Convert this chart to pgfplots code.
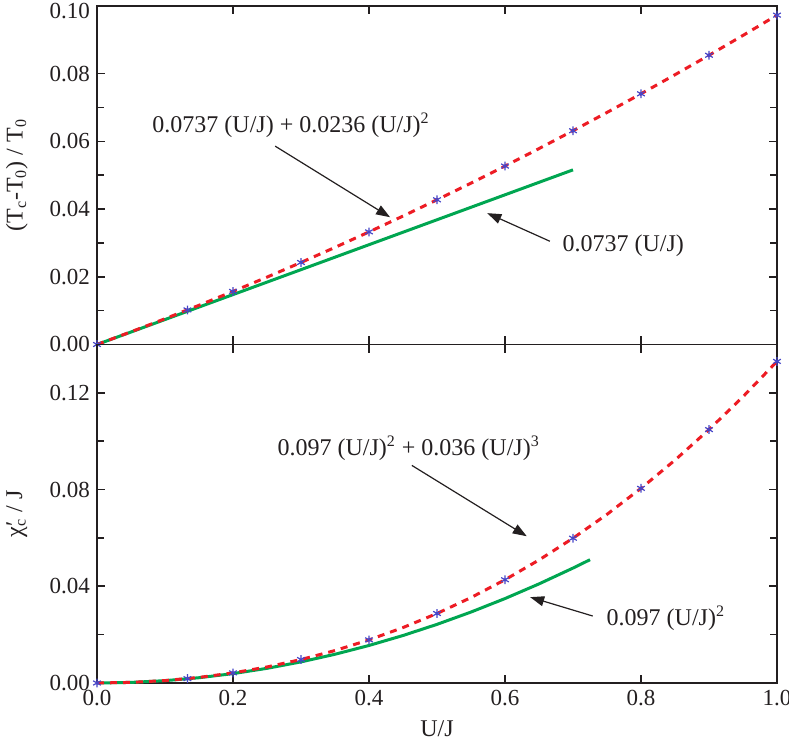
\documentclass[border=0pt]{standalone}
\usepackage{pgfplots}
\pgfplotsset{compat=1.18}
\usetikzlibrary{arrows.meta}
\usepackage{fontspec}
\setmainfont{Liberation Serif}
\definecolor{fitred}{RGB}{237,28,36}
\definecolor{fitgreen}{RGB}{0,166,81}
\definecolor{ptblue}{RGB}{70,70,200}
\definecolor{txt}{RGB}{35,31,32}

\tikzset{
 ann/.style={font=\fontsize{12}{14}\selectfont, text=txt, inner sep=0pt, anchor=west},
 arr/.style={draw=txt, line width=0.6pt, -{Triangle[length=7pt,width=5pt]}},
}
\pgfplotsset{
 myaxis/.style={
  scale only axis, width=340pt, height=169.25pt,
  xmin=0, xmax=1,
  axis line style={line width=0.8pt, color=txt},
  every tick/.style={line width=0.8pt, color=txt},
  tick align=inside,
  major tick length=4pt, minor tick length=3.5pt,
  xtick={0,0.2,0.4,0.6,0.8,1.0},
  minor y tick num=1,
  scaled y ticks=false, scaled x ticks=false,
  /pgf/number format/assume math mode=true,
  ticklabel style={font=\fontsize{11.5}{13}\selectfont, text=txt},
  label style={font=\fontsize{12}{14}\selectfont, text=txt},
  clip=false,
  xticklabel style={/pgf/number format/fixed, /pgf/number format/fixed zerofill, /pgf/number format/precision=1},
  yticklabel style={/pgf/number format/fixed, /pgf/number format/fixed zerofill, /pgf/number format/precision=2},
  ylabel style={at={(axis description cs:-0.118,0.5)}, anchor=center},
 },
 dashfit/.style={color=fitred, line width=1.5pt, dash pattern=on 3.5pt off 3pt},
 solidfit/.style={color=fitgreen, line width=1.5pt},
 pts/.style={only marks, mark=asterisk, mark size=2.2pt, color=ptblue, mark options={line width=0.6pt}},
}

\begin{document}
\begin{tikzpicture}
% ---------- top panel ----------
\begin{axis}[myaxis, at={(0,169.25pt)},
  ymin=0, ymax=0.1, ytick={0,0.02,0.04,0.06,0.08},
  extra y ticks={0.1},
  extra y tick style={yticklabel style={yshift=-2.5pt}},
  xticklabel=\empty,
  ylabel={(T\textsubscript{c}-T\textsubscript{0}) / T\textsubscript{0}}]
\addplot[solidfit] coordinates {(0,0) (0.7,0.05159)};
\addplot[dashfit] coordinates {
(0,0) (0.05,0.003744) (0.1,0.007606) (0.15,0.011586) (0.2,0.015684)
(0.25,0.0199) (0.3,0.024234) (0.35,0.028686) (0.4,0.033256) (0.45,0.037944)
(0.5,0.04275) (0.55,0.047674) (0.6,0.052716) (0.65,0.057876) (0.7,0.063154)
(0.75,0.06855) (0.8,0.074064) (0.85,0.079696) (0.9,0.085446) (0.95,0.091314) (1.0,0.0973)};
\addplot[pts] coordinates {
(0,0) (0.133,0.01022) (0.2,0.01568) (0.3,0.02423) (0.4,0.03326) (0.5,0.04275)
(0.6,0.05272) (0.7,0.06315) (0.8,0.07406) (0.9,0.08545) (1.0,0.0973)};
\node[ann] at (axis cs:0.081,0.0648) {0.0737 (U/J) + 0.0236 (U/J)\textsuperscript{2}};
\draw[arr] (axis cs:0.262,0.0586) -- (axis cs:0.431,0.0376);
\node[ann] at (axis cs:0.684,0.0293) {0.0737 (U/J)};
\draw[arr] (axis cs:0.666,0.0305) -- (axis cs:0.574,0.0388);
\end{axis}
% ---------- bottom panel ----------
\begin{axis}[myaxis, at={(0,0)},
  ymin=0, ymax=0.14, ytick={0,0.04,0.08,0.12},
  xlabel={U/J},
  xlabel style={at={(axis description cs:0.5,0)}, yshift=-23pt, anchor=center},
  ylabel={χ\rlap{′}\textsubscript{c} / J}]
\addplot[solidfit] coordinates {
(0,0) (0.05,0.0002425) (0.1,0.00097) (0.15,0.0021825) (0.2,0.00388) (0.25,0.0060625)
(0.3,0.00873) (0.35,0.0118825) (0.4,0.01552) (0.45,0.0196425) (0.5,0.02425)
(0.55,0.0293425) (0.6,0.03492) (0.65,0.0409825) (0.7,0.04753) (0.725,0.050986)};
\addplot[dashfit] coordinates {
(0,0) (0.05,0.000247) (0.1,0.001006) (0.15,0.002304) (0.2,0.004168) (0.25,0.006625)
(0.3,0.009702) (0.35,0.013426) (0.4,0.017824) (0.45,0.022923) (0.5,0.02875)
(0.55,0.035332) (0.6,0.042696) (0.65,0.050869) (0.7,0.059878) (0.75,0.06975)
(0.8,0.080512) (0.85,0.092191) (0.9,0.104814) (0.95,0.118408) (1.0,0.133)};
\addplot[pts] coordinates {
(0,0) (0.133,0.0018) (0.2,0.00417) (0.3,0.0097) (0.4,0.01782) (0.5,0.02875)
(0.6,0.0427) (0.7,0.05988) (0.8,0.08051) (0.9,0.10481) (1.0,0.133)};
\node[ann] at (axis cs:0.265,0.0971) {0.097 (U/J)\textsuperscript{2} + 0.036 (U/J)\textsuperscript{3}};
\draw[arr] (axis cs:0.463,0.0900) -- (axis cs:0.632,0.0607);
\node[ann] at (axis cs:0.749,0.0268) {0.097 (U/J)\textsuperscript{2}};
\draw[arr] (axis cs:0.729,0.0277) -- (axis cs:0.637,0.0355);
\end{axis}
\pgfresetboundingbox
\path (-48.5pt,-28.5pt) rectangle (346pt,341.5pt);
\end{tikzpicture}
\end{document}
